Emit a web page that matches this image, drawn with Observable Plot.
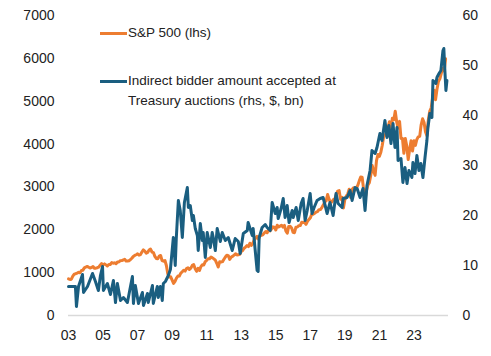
<!DOCTYPE html>
<html>
<head>
<meta charset="utf-8">
<script src="https://cdn.jsdelivr.net/npm/d3@7"></script>
<script src="https://cdn.jsdelivr.net/npm/@observablehq/plot@0.6"></script>
<style>
  html, body { margin: 0; padding: 0; background: #fff; }
  #wrap { position: relative; width: 491px; height: 356px; font-family: "Liberation Sans", Arial, sans-serif; }
  .legend { position: absolute; left: 100px; font-size: 13.5px; color: #222; line-height: 20px; }
  .legend .sw { position: absolute; left: 0; width: 27px; height: 3px; }
  .legend .tx { position: absolute; left: 28px; white-space: nowrap; }
</style>
</head>
<body>
<div id="wrap"></div>
<script>
// X-axis tick labels (two-digit years)
const xTickYears = [2003, 2005, 2007, 2009, 2011, 2013, 2015, 2017, 2019, 2021, 2023];
const leftTicks = [0, 1000, 2000, 3000, 4000, 5000, 6000, 7000];
const rightTicks = [0, 10, 20, 30, 40, 50, 60];

// S&P 500, monthly, starting Jan 2003 (lhs)
const spxStartYear = 2003;
const spxMonthly = [
  856, 841, 848, 917, 964, 975, 990, 1008, 996, 1051, 1058, 1112,
  1131, 1145, 1126, 1107, 1121, 1141, 1102, 1104, 1115, 1130, 1174, 1212,
  1181, 1204, 1181, 1157, 1192, 1191, 1234, 1220, 1229, 1207, 1249, 1248,
  1280, 1281, 1295, 1311, 1270, 1270, 1277, 1304, 1336, 1378, 1401, 1418,
  1438, 1407, 1421, 1482, 1531, 1503, 1455, 1474, 1527, 1549, 1481, 1468,
  1379, 1331, 1323, 1386, 1400, 1280, 1267, 1283, 1166, 969, 896, 903,
  826, 750, 798, 873, 919, 919, 987, 1021, 1057, 1036, 1096, 1115,
  1074, 1104, 1169, 1187, 1089, 1031, 1102, 1049, 1141, 1183, 1181, 1258,
  1286, 1327, 1326, 1364, 1345, 1321, 1292, 1219, 1131, 1253, 1247, 1258,
  1312, 1366, 1408, 1398, 1310, 1362, 1379, 1407, 1441, 1412, 1416, 1426,
  1498, 1515, 1569, 1598, 1631, 1606, 1686, 1633, 1682, 1757, 1806, 1848,
  1783, 1859, 1872, 1884, 1924, 1960, 1931, 2003, 1972, 2018, 2068, 2059,
  1995, 2105, 2068, 2086, 2107, 2063, 2104, 1972, 1920, 2079, 2080, 2044,
  1940, 1932, 2060, 2065, 2097, 2099, 2174, 2171, 2168, 2126, 2199, 2239,
  2279, 2364, 2363, 2384, 2412, 2423, 2470, 2472, 2519, 2575, 2648, 2674,
  2824, 2714, 2641, 2648, 2705, 2718, 2816, 2902, 2914, 2712, 2760, 2507,
  2704, 2784, 2834, 2946, 2752, 2942, 2980, 2926, 2977, 3038, 3141, 3231,
  3226, 2954, 2700, 2912, 3044, 3100, 3271, 3500, 3363, 3270, 3622, 3756,
  3714, 3811, 3973, 4181, 4204, 4298, 4395, 4523, 4308, 4605, 4567, 4766,
  4516, 4374, 4530, 4132, 4132, 3785, 4130, 3955, 3640, 3872, 4080, 3840,
  4077, 3970, 4109, 4169, 4180, 4450, 4589, 4508, 4288, 4194, 4568, 4770,
  4846, 5096, 5254, 5036, 5278, 5460, 5522, 5648, 5762, 5705, 5990
];

// Indirect bidder amount accepted at Treasury auctions (rhs, $bn)
const blueYears = [
  2003.00, 2003.40, 2003.46, 2003.58, 2003.81, 2003.87, 2004.10, 2004.39, 2004.56, 2004.73,
  2004.85, 2004.97, 2005.02, 2005.25, 2005.43, 2005.60, 2005.72, 2005.83, 2006.01, 2006.18,
  2006.41, 2006.70, 2006.76, 2006.87, 2007.05, 2007.28, 2007.34, 2007.57, 2007.62, 2007.86,
  2007.91, 2008.14, 2008.20, 2008.32, 2008.43, 2008.49, 2008.61, 2008.78, 2008.90, 2009.07,
  2009.18, 2009.24, 2009.36, 2009.47, 2009.59, 2009.71, 2009.88, 2009.94, 2010.05, 2010.17,
  2010.23, 2010.34, 2010.46, 2010.51, 2010.63, 2010.75, 2010.80, 2010.92, 2011.03, 2011.21,
  2011.32, 2011.38, 2011.50, 2011.61, 2011.79, 2011.90, 2012.08, 2012.25, 2012.48, 2012.65,
  2012.83, 2012.94, 2013.12, 2013.35, 2013.40, 2013.64, 2013.69, 2013.92, 2013.98, 2014.04,
  2014.21, 2014.39, 2014.50, 2014.68, 2014.79, 2014.97, 2015.08, 2015.14, 2015.31, 2015.43,
  2015.54, 2015.66, 2015.77, 2015.95, 2016.01, 2016.18, 2016.30, 2016.47, 2016.58, 2016.70,
  2016.82, 2016.99, 2017.10, 2017.22, 2017.39, 2017.57, 2017.74, 2017.86, 2017.97, 2018.14,
  2018.32, 2018.49, 2018.61, 2018.84, 2018.90, 2019.13, 2019.30, 2019.42, 2019.59, 2019.71,
  2019.88, 2020.05, 2020.17, 2020.28, 2020.46, 2020.57, 2020.75, 2020.86, 2020.98, 2021.03,
  2021.15, 2021.32, 2021.44, 2021.55, 2021.67, 2021.79, 2021.90, 2022.02, 2022.08, 2022.25,
  2022.36, 2022.48, 2022.60, 2022.71, 2022.88, 2022.94, 2023.06, 2023.17, 2023.29, 2023.40,
  2023.52, 2023.64, 2023.75, 2023.81, 2023.92, 2024.04, 2024.10, 2024.27, 2024.33, 2024.45,
  2024.56, 2024.68, 2024.73, 2024.79, 2024.85, 2024.91
];
const blueValues = [
  5.8, 5.8, 1.8, 5.8, 8.2, 4.6, 5.8, 8.4, 6.8, 5.0,
  8.0, 9.8, 5.0, 6.4, 4.2, 7.0, 2.6, 6.4, 3.0, 3.6,
  2.6, 7.8, 2.4, 6.0, 2.4, 4.6, 2.0, 4.4, 2.6, 6.0,
  2.4, 5.8, 3.6, 5.8, 3.0, 6.4, 6.8, 8.0, 9.2, 15.6,
  10.0, 15.4, 23.0, 21.0, 15.6, 22.6, 25.6, 21.6, 22.0, 19.0,
  20.0, 17.4, 16.0, 13.0, 18.4, 15.0, 16.6, 11.6, 16.6, 13.6,
  16.6, 15.6, 13.0, 17.4, 14.8, 16.6, 15.0, 15.6, 13.0, 15.4,
  14.8, 12.4, 16.4, 17.0, 18.6, 16.0, 17.4, 9.0, 8.8, 15.6,
  17.6, 18.2, 17.6, 17.0, 22.6, 20.4, 21.6, 19.4, 21.4, 23.4,
  19.6, 22.0, 18.6, 21.0, 19.6, 21.6, 19.0, 22.4, 23.4, 19.0,
  21.0, 24.4, 20.4, 21.6, 23.0, 23.4, 23.6, 22.0, 20.4, 22.6,
  20.0, 24.4, 22.4, 21.6, 23.4, 23.6, 25.0, 23.0, 25.6, 25.4,
  23.6, 25.4, 21.0, 26.0, 29.0, 33.0, 32.4, 33.6, 35.6, 36.4,
  35.0, 39.0, 35.6, 38.0, 34.4, 38.4, 33.6, 37.6, 31.0, 31.4,
  26.6, 29.6, 26.4, 29.0, 27.6, 30.6, 28.4, 32.0, 29.0, 30.4,
  27.6, 31.6, 35.0, 37.6, 40.4, 39.6, 47.0, 46.4, 47.6, 48.4,
  49.0, 53.0, 53.4, 49.0, 45.0, 47.0
];

const leftMax = 7000, rightMax = 60;
const k = leftMax / rightMax;

const spx = spxMonthly.map((v, i) => ({x: spxStartYear + i / 12, y: v}));
const blue = blueYears.map((t, i) => ({x: t, y: blueValues[i] * k}));

const ORANGE = "#ED7D31";
const BLUE = "#1A5E80";

const chart = Plot.plot({
  width: 491,
  height: 356,
  marginLeft: 68,
  marginRight: 43,
  marginTop: 15,
  marginBottom: 41,
  style: {fontFamily: "'Liberation Sans', Arial, sans-serif", fontSize: "14px", color: "#222", background: "#fff"},
  x: {domain: [2003, 2025]},
  y: {domain: [0, leftMax]},
  marks: [
    Plot.ruleY([0], {stroke: "#d9d9d9", strokeWidth: 1.5}),
    Plot.axisX({ticks: xTickYears, tickFormat: d => String(d).slice(2), tickSize: 0, tickPadding: 15, fontSize: 14, label: null}),
    Plot.axisY({ticks: leftTicks, tickFormat: d => String(d), tickSize: 0, tickPadding: 14, fontSize: 14, label: null}),
    Plot.axisY({anchor: "right", ticks: rightTicks.map(v => v * k), tickFormat: d => String(Math.round(d / k)), tickSize: 0, tickPadding: 14, fontSize: 14, label: null}),
    Plot.line(spx, {x: "x", y: "y", stroke: ORANGE, strokeWidth: 3, strokeLinejoin: "round"}),
    Plot.line(blue, {x: "x", y: "y", stroke: BLUE, strokeWidth: 3, strokeLinejoin: "round"})
  ]
});

const wrap = document.getElementById("wrap");
wrap.appendChild(chart);

const legendItems = [
  {color: ORANGE, lines: ["S&P 500 (lhs)"], top: 23},
  {color: BLUE, lines: ["Indirect bidder amount accepted at", "Treasury auctions (rhs, $, bn)"], top: 71}
];
for (const item of legendItems) {
  const d = document.createElement("div");
  d.className = "legend";
  d.style.top = item.top + "px";
  const sw = document.createElement("div");
  sw.className = "sw";
  sw.style.background = item.color;
  sw.style.top = "9px";
  d.appendChild(sw);
  const tx = document.createElement("div");
  tx.className = "tx";
  tx.innerHTML = item.lines.map(s => s.replace(/&/g, "&amp;")).join("<br>");
  d.appendChild(tx);
  wrap.appendChild(d);
}
</script>
</body>
</html>
